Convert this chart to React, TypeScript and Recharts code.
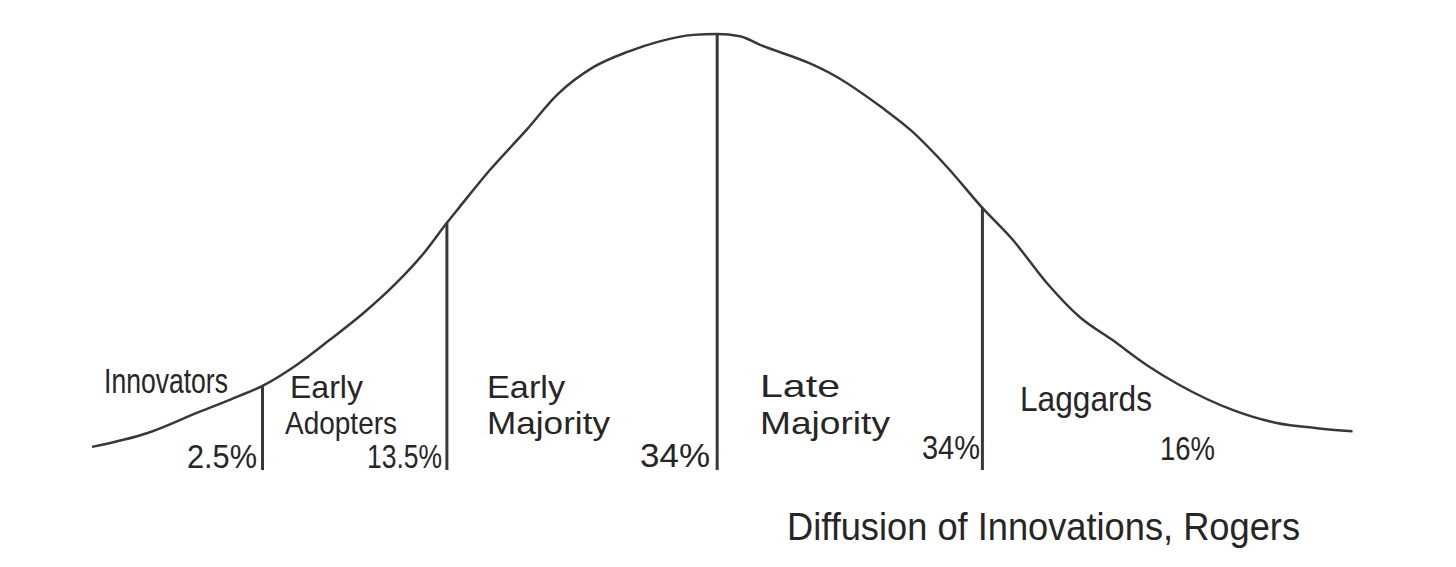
import React from "react";
import { ComposedChart, Line, XAxis, YAxis, ReferenceLine } from "recharts";

// curve: position along the axis (0-100) and height (0-100, peak = 100)
const positions = [
  0, 4.4, 8.3, 10.9, 13.5, 16.2, 18.8, 21.5, 24.1, 26.2, 28.1, 29.1, 31.5, 34.4,
  36.8, 39.7, 42.4, 44.8, 47.6, 49.5, 51.3, 52.9, 56.8, 58.7, 62.6, 64.8, 67.7,
  70.5, 72.9, 75.6, 78.2, 80.8, 83.5, 86.1, 90.3, 93.8, 97.0, 99.8,
];
const heights = [
  5.3, 8.5, 13.1, 16.1, 19.3, 24.1, 29.8, 36.0, 42.9, 49.5, 56.7, 60.3, 68.8, 78.0,
  86.0, 92.4, 95.9, 98.2, 99.8, 100, 99.5, 97.5, 93.3, 90.6, 83.0, 78.0, 69.5,
  60.1, 52.8, 42.9, 35.1, 29.8, 24.1, 19.5, 13.8, 10.8, 9.6, 8.9,
];

const segments = ["Innovators", "Early Adopters", "Early Majority", "Late Majority", "Laggards"];
const shares = ["2.5%", "13.5%", "34%", "34%", "16%"];
const dividerPositions = [13.5, 28.1, 49.5, 70.5];
const dividerHeights = [19.3, 56.7, 100, 60.1];
const credit = "Diffusion of Innovations, Rogers";

const data = positions.map((x, i) => ({ x, y: heights[i] }));

const INK = "#383838";
const TEXT_INK = "#262626";
const HAND = "'Liberation Sans Narrow', 'Liberation Sans', sans-serif";

// where the hand-written words sit (px)
const labelLayout = [
  [{ x: 104, y: 393, w: 124 }],
  [{ x: 290, y: 398, w: 73 }, { x: 285, y: 434, w: 112 }],
  [{ x: 487, y: 398, w: 78 }, { x: 487, y: 434, w: 123 }],
  [{ x: 760, y: 397, w: 80 }, { x: 760, y: 434, w: 130 }],
  [{ x: 1020, y: 411, w: 132 }],
];
const shareLayout = [
  { x: 187, y: 468, w: 70 },
  { x: 367, y: 468, w: 75 },
  { x: 640, y: 467, w: 70 },
  { x: 922, y: 459, w: 58 },
  { x: 1160, y: 460, w: 55 },
];

const Hand = ({ lines, size = 34 }: { lines: { x: number; y: number; w: number; t: string }[]; size?: number }) => (
  <text fontFamily={HAND} fontWeight={400} fontSize={size} fill={TEXT_INK}>
    {lines.map((l, i) => (
      <tspan key={i} x={l.x} y={l.y} textLength={l.w} lengthAdjust="spacingAndGlyphs">
        {l.t}
      </tspan>
    ))}
  </text>
);

export default function App() {
  return (
    <div style={{ position: "absolute", left: 0, top: 0, width: 1456, height: 567, background: "#fff" }}>
      <ComposedChart
        width={1456}
        height={567}
        data={data}
        margin={{ top: 34, right: 101, bottom: 97, left: 92 }}
      >
        <XAxis
          dataKey="x"
          type="number"
          domain={[0, 100]}
          height={0}
          tick={false}
          tickLine={false}
          axisLine={{ stroke: INK, strokeWidth: 3.5 }}
        />
        <YAxis type="number" domain={[0, 100]} hide />
        {dividerPositions.map((p, i) => (
          <ReferenceLine
            key={i}
            segment={[{ x: p, y: 0 }, { x: p, y: dividerHeights[i] }]}
            stroke={INK}
            strokeWidth={3}
          />
        ))}
        <Line
          type="monotone"
          dataKey="y"
          stroke={INK}
          strokeWidth={2.5}
          dot={false}
          activeDot={false}
          isAnimationActive={false}
        />
      </ComposedChart>
      <svg width={1456} height={567} style={{ position: "absolute", left: 0, top: 0, pointerEvents: "none" }}>
        {segments.map((s, i) => (
          <Hand
            key={`l${i}`}
            size={s.includes(" ") ? 32 : 35}
            lines={s.split(" ").map((t, j) => ({ ...labelLayout[i][j], t }))}
          />
        ))}
        {shares.map((s, i) => (
          <Hand key={`s${i}`} lines={[{ ...shareLayout[i], t: s }]} />
        ))}
        <Hand lines={[{ x: 787, y: 540, w: 513, t: credit }]} size={38} />
      </svg>
    </div>
  );
}
